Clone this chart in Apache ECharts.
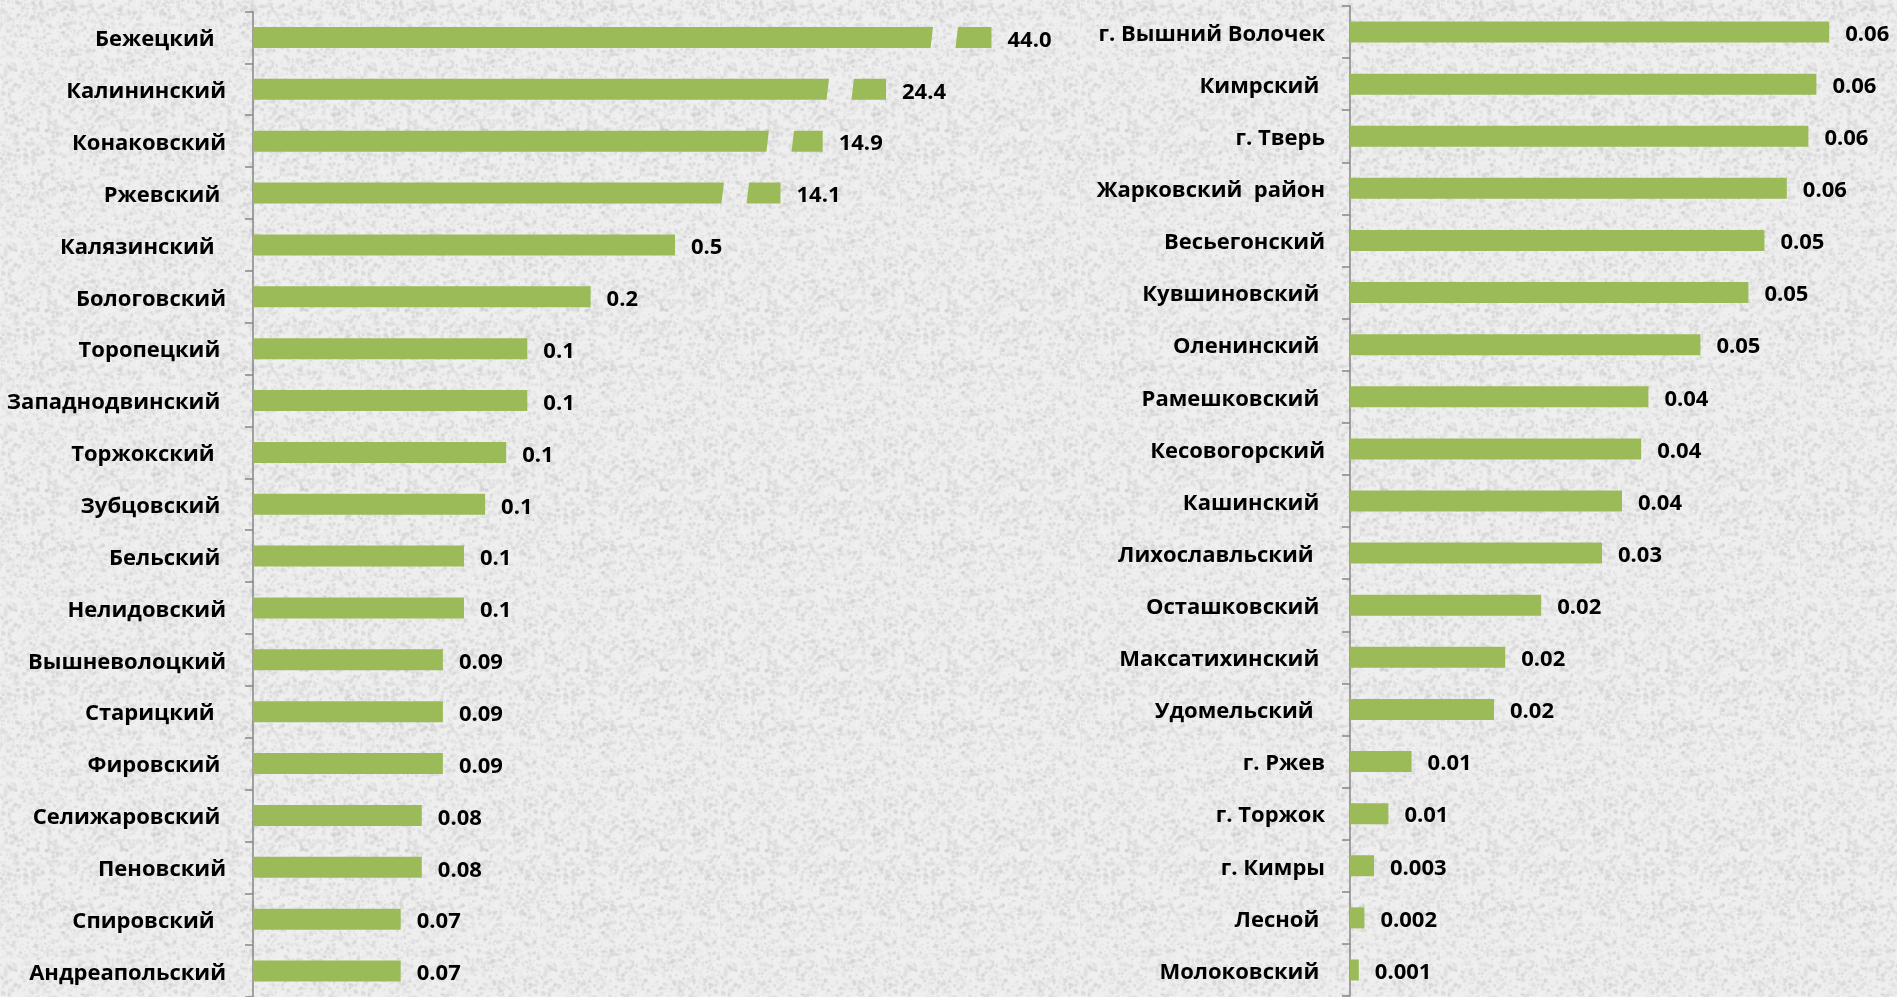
<!DOCTYPE html>
<html>
<head>
<meta charset="utf-8">
<script src="https://cdn.jsdelivr.net/npm/echarts@6/dist/echarts.min.js"></script>
<style>
  html, body { margin: 0; padding: 0; }
  #chart { width: 1897px; height: 997px; }
</style>
</head>
<body>
<div id="chart"></div>
<script>
// Left panel: districts with the largest values (top 4 bars are broken)
const leftNames = [
  'Бежецкий  ', 'Калининский', 'Конаковский', 'Ржевский ', 'Калязинский  ',
  'Бологовский', 'Торопецкий ', 'Западнодвинский ', 'Торжокский  ', 'Зубцовский ',
  'Бельский ', 'Нелидовский', 'Вышневолоцкий', 'Старицкий  ', 'Фировский ',
  'Селижаровский ', 'Пеновский', 'Спировский  ', 'Андреапольский'
]
const leftLabels = [
  '44.0', '24.4', '14.9', '14.1', '0.5', '0.2', '0.1', '0.1', '0.1', '0.1',
  '0.1', '0.1', '0.09', '0.09', '0.09', '0.08', '0.08', '0.07', '0.07'
]
// bar length as drawn on the (broken) axis
const leftBars = [
  0.350, 0.300, 0.270, 0.250, 0.200, 0.160, 0.130, 0.130, 0.120, 0.110,
  0.100, 0.100, 0.090, 0.090, 0.090, 0.080, 0.080, 0.070, 0.070
]
// where the axis break starts / ends on the broken bars
const leftBreakFrom = [0.3223, 0.2730, 0.2445, 0.2232]
const leftBreakTo = [0.3341, 0.2848, 0.2564, 0.2351]

// Right panel: districts and towns with small values
const rightNames = [
  'г. Вышний Волочек', 'Кимрский ', 'г. Тверь', 'Жарковский  район', 'Весьегонский',
  'Кувшиновский ', 'Оленинский ', 'Рамешковский ', 'Кесовогорский', 'Кашинский ',
  'Лихославльский  ', 'Осташковский ', 'Максатихинский ', 'Удомельский  ', 'г. Ржев',
  'г. Торжок', 'г. Кимры', 'Лесной ', 'Молоковский '
]
const rightLabels = [
  '0.06', '0.06', '0.06', '0.06', '0.05', '0.05', '0.05', '0.04', '0.04', '0.04',
  '0.03', '0.02', '0.02', '0.02', '0.01', '0.01', '0.003', '0.002', '0.001'
]
const rightBars = [
  0.0599, 0.0583, 0.0573, 0.0546, 0.0518, 0.0498, 0.0438, 0.0373, 0.0364, 0.0340,
  0.0315, 0.0239, 0.0194, 0.0180, 0.0077, 0.0048, 0.0030, 0.0018, 0.0011
]

const BAR_COLOR = '#9bbb59'
const AXIS_COLOR = '#868686'
const FONT = '"Open Sans", Lato, sans-serif'
const FONT_SIZE = 22
const SLANT = 2.5

// Grey speckled paper texture for the page background
function makeTexture() {
  const size = 180
  const c = document.createElement('canvas')
  c.width = c.height = size
  const g = c.getContext('2d')
  g.fillStyle = '#efefef'
  g.fillRect(0, 0, size, size)
  let s = 12345
  const next = () => (s = (s * 16807) % 2147483647) / 2147483647
  for (let i = 0; i < 3200; i++) {
    const x = next() * size, y = next() * size
    const r = 0.7 + next() * 1.6
    const v = 190 + Math.floor(next() * 45)
    g.fillStyle = `rgba(${v},${v},${v},0.35)`
    g.beginPath()
    g.arc(x, y, r, 0, Math.PI * 2)
    g.fill()
  }
  return c.toDataURL()
}
document.body.style.background = `url(${makeTexture()}) repeat`

// Draw one left bar, with a slanted gap when the value is off the scale
function drawLeftBar(params, api) {
  const idx = params.dataIndex
  const cat = api.value(0)
  const cutA = api.value(1)
  const cutB = api.value(2)
  const end = api.value(3)
  const h = api.size([0, 1])[1] * 0.405
  const origin = api.coord([0, cat])
  const yTop = origin[1] - h / 2
  const yBot = origin[1] + h / 2
  const xEnd = api.coord([end, cat])[0]
  const children = []
  if (cutA < end) {
    const xa = api.coord([cutA, cat])[0]
    const xb = api.coord([cutB, cat])[0]
    children.push({
      type: 'polygon',
      shape: { points: [[origin[0], yTop], [xa, yTop], [xa - SLANT, yBot], [origin[0], yBot]] },
      style: { fill: BAR_COLOR }
    })
    children.push({
      type: 'polygon',
      shape: { points: [[xb, yTop], [xEnd, yTop], [xEnd, yBot], [xb - SLANT, yBot]] },
      style: { fill: BAR_COLOR }
    })
  } else {
    children.push({
      type: 'rect',
      shape: { x: origin[0], y: yTop, width: xEnd - origin[0], height: h },
      style: { fill: BAR_COLOR }
    })
  }
  children.push({
    type: 'text',
    style: {
      text: leftLabels[idx],
      x: xEnd + 16,
      y: origin[1] + 3,
      align: 'left',
      verticalAlign: 'middle',
      fontFamily: FONT,
      fontWeight: 'bold',
      fontSize: FONT_SIZE,
      fill: '#000'
    }
  })
  return { type: 'group', children }
}

const leftData = leftBars.map((v, i) => [
  i,
  i < leftBreakFrom.length ? leftBreakFrom[i] : v,
  i < leftBreakTo.length ? leftBreakTo[i] : v,
  v
])

const categoryAxisBase = {
  type: 'category',
  inverse: true,
  axisLine: { show: true, lineStyle: { color: AXIS_COLOR, width: 1.5 } },
  axisTick: { show: true, length: 8, lineStyle: { color: AXIS_COLOR, width: 1.5 } },
  axisLabel: {
    color: '#000',
    fontFamily: FONT,
    fontWeight: 'bold',
    fontSize: FONT_SIZE,
    // nudge names a little below the band centre, as in the source
    verticalAlign: 'top',
    lineHeight: 5
  },
  splitLine: { show: false }
}

const chart = echarts.init(document.getElementById('chart'), null, { renderer: 'canvas' })

chart.setOption({
  backgroundColor: 'transparent',
  animation: false,
  grid: [
    { left: 253, top: 11.5, width: 844, bottom: -2 },
    { left: 1350, top: 6, width: 544, bottom: 1 }
  ],
  xAxis: [
    { type: 'value', gridIndex: 0, min: 0, max: 0.4, show: false },
    { type: 'value', gridIndex: 1, min: 0, max: 0.068, show: false }
  ],
  yAxis: [
    {
      ...categoryAxisBase,
      gridIndex: 0,
      data: leftNames,
      axisLabel: { ...categoryAxisBase.axisLabel, margin: 27 }
    },
    {
      ...categoryAxisBase,
      gridIndex: 1,
      data: rightNames,
      axisLabel: { ...categoryAxisBase.axisLabel, margin: 25 }
    }
  ],
  series: [
    {
      type: 'custom',
      xAxisIndex: 0,
      yAxisIndex: 0,
      renderItem: drawLeftBar,
      encode: { x: [1, 2, 3], y: 0 },
      data: leftData
    },
    {
      type: 'bar',
      xAxisIndex: 1,
      yAxisIndex: 1,
      data: rightBars,
      barWidth: 21,
      itemStyle: { color: BAR_COLOR },
      label: {
        show: true,
        position: 'right',
        distance: 16,
        offset: [0, 2.5],
        color: '#000',
        fontFamily: FONT,
        fontWeight: 'bold',
        fontSize: FONT_SIZE,
        formatter: (p) => rightLabels[p.dataIndex]
      }
    }
  ]
})
</script>
</body>
</html>
